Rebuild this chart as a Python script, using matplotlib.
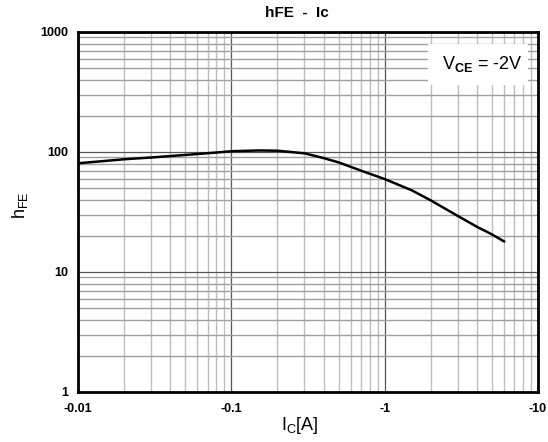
import matplotlib
matplotlib.use("Agg")
import matplotlib.pyplot as plt
from matplotlib.patches import Rectangle
from matplotlib.ticker import LogLocator, FixedLocator, NullFormatter, FixedFormatter

plt.rcParams['font.family'] = ['Liberation Sans', 'DejaVu Sans']
plt.rcParams['mathtext.fontset'] = 'custom'
plt.rcParams['mathtext.rm'] = 'Liberation Sans'
plt.rcParams['mathtext.bf'] = 'Liberation Sans:bold'

# Data (Ic magnitude in A, hFE)
ic = [0.01, 0.02, 0.03, 0.05, 0.08, 0.1, 0.15, 0.2, 0.3, 0.4, 0.5, 0.7,
      1.0, 1.5, 2.0, 3.0, 4.0, 5.0, 6.0]
hfe = [80.5, 87, 90, 94.5, 99, 101.5, 103, 102.5, 97.5, 89, 82, 70,
       59.5, 48, 39.5, 29.3, 23.8, 20.6, 18]

x_ticks = [0.01, 0.1, 1, 10]
x_labels = ['-0.01', '-0.1', '-1', '-10']
y_ticks = [1, 10, 100, 1000]
y_labels = ['1', '10', '100', '1000']

fig = plt.figure(figsize=(5.48, 4.42), dpi=100)
ax = fig.add_axes([78/548, 1 - 392/442, 460/548, 360/442])
ax.set_xscale('log')
ax.set_yscale('log')
ax.set_xlim(0.01, 10)
ax.set_ylim(1, 1000)

ax.xaxis.set_major_locator(FixedLocator(x_ticks))
ax.xaxis.set_major_formatter(FixedFormatter(x_labels))
ax.yaxis.set_major_locator(FixedLocator(y_ticks))
ax.yaxis.set_major_formatter(FixedFormatter(y_labels))
ax.xaxis.set_minor_locator(LogLocator(base=10, subs=range(2, 10)))
ax.yaxis.set_minor_locator(LogLocator(base=10, subs=range(2, 10)))
ax.xaxis.set_minor_formatter(NullFormatter())
ax.yaxis.set_minor_formatter(NullFormatter())

ax.grid(True, which='major', axis='both', color='#555555', linewidth=0.9)
ax.grid(True, which='minor', axis='x', color='#bdbdbd', linewidth=1.0)
ax.grid(True, which='minor', axis='y', color='#a0a0a0', linewidth=1.0)
ax.set_axisbelow(True)

ax.tick_params(which='both', length=0)
ax.tick_params(axis='x', pad=8, labelsize=9)
ax.tick_params(axis='y', pad=7, labelsize=9)
for lab in ax.get_xticklabels() + ax.get_yticklabels():
    lab.set_fontweight('bold')

for sp in ax.spines.values():
    sp.set_linewidth(2.0)
    sp.set_color('black')

ax.plot(ic, hfe, color='black', linewidth=1.8, zorder=3)

ax.add_patch(Rectangle((0.761, 0.853), 0.217, 0.114, transform=ax.transAxes,
                       facecolor='white', edgecolor='none', zorder=2.5))
ax.text(0.878, 0.911, r'V$_{\mathbf{CE}}$ = -2V', transform=ax.transAxes,
        ha='center', va='center', fontsize=13, zorder=4)

fig.text(297/548, 1 - 13/442, 'hFE  -  Ic', ha='center', va='center',
         fontsize=11, fontweight='bold')
fig.text(300/548, 1 - 426/442, r'I$_{\mathregular{C}}$[A]', ha='center', va='center',
         fontsize=13)
fig.text(20/548, 1 - 205/442, r'h$_{\mathregular{FE}}$', ha='center', va='center',
         fontsize=13, rotation=90)

fig.savefig('out.png', dpi=100)
